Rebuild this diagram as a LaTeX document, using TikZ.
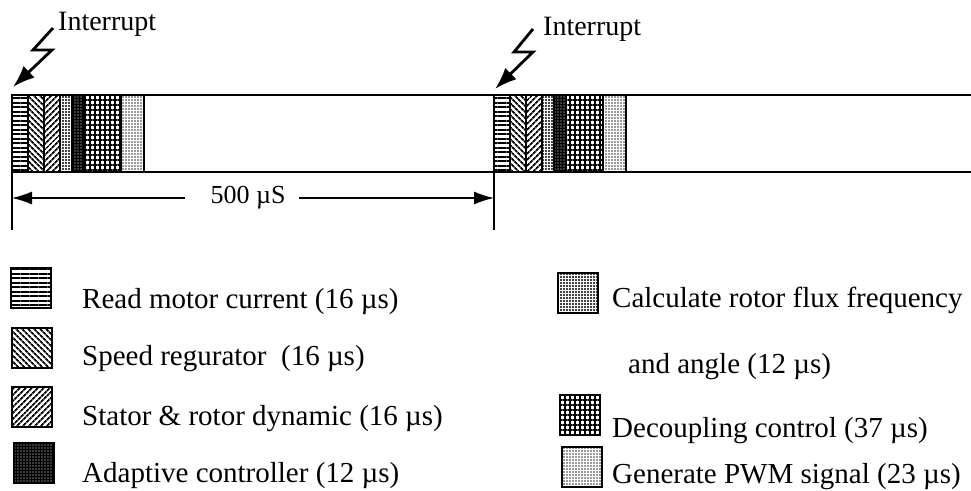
\documentclass[tikz,border=0pt]{standalone}
\usepackage{fontspec}
\setmainfont{Liberation Serif}
\usetikzlibrary{patterns.meta,arrows.meta}

\tikzset{
  txt/.style={font=\fontsize{29}{34}\selectfont, anchor=base west, inner sep=0pt},
  label/.style={font=\fontsize{28}{32}\selectfont, anchor=base west, inner sep=0pt},
  frame/.style={line width=2pt},
  seg/.style={draw=black, line width=1.2pt},
  swatch/.style={draw=black, line width=2.5pt},
  hlinefill/.style={pattern={Lines[angle=0,distance=4.5pt,line width=2pt]}},
  nwlinefill/.style={pattern={Lines[angle=-45,distance=4pt,line width=1.8pt]}},
  nelinefill/.style={pattern={Lines[angle=45,distance=4pt,line width=1.8pt]}},
  chkfill/.style={pattern={Dots[distance=3pt,radius=1.15pt]}},
  darkfill/.style={preaction={fill=black}, pattern={Dots[distance=3pt,radius=0.55pt]}, pattern color=white},
  gridfill/.style={pattern={Hatch[angle=0,distance=5pt,line width=1.3pt]}},
  dotfill/.style={pattern={Dots[distance=3pt,radius=0.8pt]}, pattern color=black!80},
  bolt/.style={line width=2.8pt, -{Latex[length=22pt,width=16pt]}},
  dim/.style={line width=1.5pt, -{Latex[length=20pt,width=13pt]}}
}

\begin{document}
\begin{tikzpicture}[x=1pt,y=-1pt]
  \useasboundingbox (0,0) rectangle (971,490);

  %Blocs de calcul
  \foreach \xo in {12,494}
    \foreach \a/\w/\pat in {0/16/hlinefill,16/16/nwlinefill,32/16/nelinefill,48/12/chkfill,60/12/darkfill,72/37/gridfill,109/23/dotfill}
      \draw[seg,\pat] (\xo+\a,95) rectangle ++(\w,77);

  %Cadre
  \draw[frame] (971,95) -- (12,95) -- (12,230);
  \draw[frame] (12,172) -- (971,172);
  \draw[frame] (494,172) -- (494,230);

  %Interruptions
  \node[label] (Int1) at (58,30) {Interrupt};
  \node[label] (Int2) at (543,35) {Interrupt};
  \coordinate (Bolt1) at (53,28);
  \coordinate (Bolt2) at (533,29);
  \coordinate (Hit1) at (13,87);
  \coordinate (Hit2) at (495,89);
  \draw[bolt] (Bolt1) -- ++(-20,22) -- ++(19,0) -- (Hit1);
  \draw[bolt] (Bolt2) -- ++(-19,23) -- ++(19,0) -- (Hit2);

  %Période
  \node[font=\fontsize{26}{30}\selectfont, inner sep=0pt] (Period) at (248,198) {500 µS};
  \coordinate (TickL) at (12,198);
  \coordinate (TickR) at (494,198);
  \draw[dim] ([xshift=-25pt]Period.west) -- (TickL);
  \draw[dim] ([xshift=13pt]Period.east) -- (TickR);

  %Légende
  \draw[swatch,hlinefill] (11,268) rectangle ++(40,40);
  \draw[swatch,nwlinefill] (12,328) rectangle ++(40,40);
  \draw[swatch,nelinefill] (12,387) rectangle ++(40,40);
  \draw[swatch,darkfill] (14,443) rectangle ++(40,40);
  \draw[swatch,chkfill] (558,273) rectangle ++(40,40);
  \draw[swatch,gridfill] (560,395) rectangle ++(40,40);
  \draw[swatch,dotfill] (562,447) rectangle ++(40,40);

  \node[txt] (Read) at (82,308) {Read motor current (16 µs)};
  \node[txt] (Speed) at (82,365) {Speed regurator\ \ (16 µs)};
  \node[txt] (Stator) at (82,425) {Stator \& rotor dynamic (16 µs)};
  \node[txt] (Adapt) at (82,482) {Adaptive controller (12 µs)};
  \node[txt] (Flux) at (612,307) {Calculate rotor flux frequency};
  \node[txt] (Angle) at (628,373) {and angle (12 µs)};
  \node[txt] (Decouple) at (612,437) {Decoupling control (37 µs)};
  \node[txt] (Pwm) at (612,483) {Generate PWM signal (23 µs)};
\end{tikzpicture}
\end{document}
